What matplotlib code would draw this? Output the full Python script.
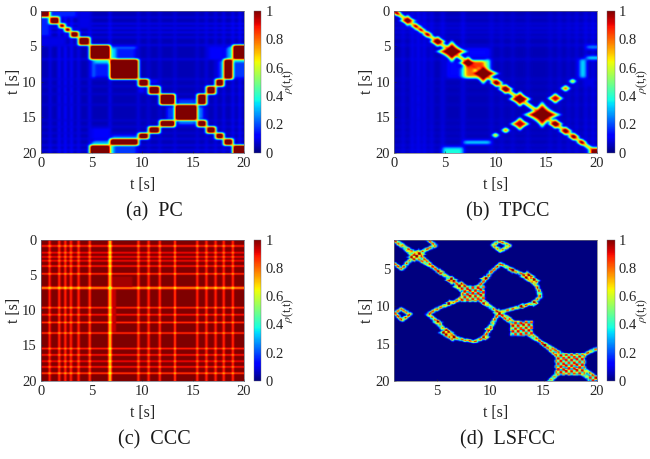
import numpy as np
import matplotlib
matplotlib.use("Agg")
import matplotlib.pyplot as plt
from matplotlib.cm import ScalarMappable
from matplotlib.colors import Normalize

plt.rcParams['font.family'] = ['Liberation Serif', 'DejaVu Serif']
plt.rcParams['mathtext.fontset'] = 'stix'
TXT = '#262626'

# ---------- values (seconds) ----------
TICKS = [0, 5, 10, 15, 20]
TICKS_D = [5, 10, 15, 20]
CB_TICKS = [0, 0.2, 0.4, 0.6, 0.8, 1]
CB_LABELS = ['0', '0.2', '0.4', '0.6', '0.8', '1']
CAPTIONS = ['(a)  PC', '(b)  TPCC', '(c)  CCC', '(d)  LSFCC']

# (a) PC: segment edges and pairs of similar segments
PC_EDGES = [0, .85, 1.8, 2.35, 2.9, 3.7, 4.8, 6.8, 9.6, 10.6, 11.7, 13.2, 15.4, 16.3, 17.2, 18.0, 18.9, 20]
PC_PAIRS = [(10, 12), (9, 13), (8, 14), (7, 15), (6, 16)]
# t0, t1, s0, s1, value (mirrored across the diagonal)
PC_GLOW = [(6.8, 9.3, 5.0, 6.8, .15), (6.8, 7.4, 5.0, 6.8, .34), (6.9, 9.4, 5.0, 5.3, .24),
           (19.0, 20, 6.8, 7.2, .36), (19.0, 20, 7.2, 9.4, .18), (18.2, 18.8, 5.2, 6.8, .2),
           (5.0, 6.8, 18.4, 18.9, .3), (5.0, 6.8, 16.5, 18.0, .11), (7.0, 9.5, 17.5, 18.0, .2),
           (13.5, 15.2, 12.4, 13.2, .18), (13.5, 15.2, 15.5, 16.0, .24),
           (10.0, 11.5, 9.7, 10.2, .12), (1.0, 3.5, 0, 0.8, .16), (3.6, 5, 0, 2.5, .09)]
STRIPE_T = [.9, 1.8, 2.4, 3.0, 3.7, 4.8, 6.8, 9.6, 10.6, 11.7, 13.2, 15.4, 16.3, 17.2, 18.0, 18.9, 19.6]
STRIPE_V = [.11, .14, .15, .14, .12, .12, .12, .1, .09, .09, .09, .09, .1, .1, .11, .12, .13]

# (b) TPCC: blob centre, size on the diagonal, then off-diagonal blobs
TP_DIAG_T = [.3, 1.35, 2.15, 2.65, 3.3, 4.3, 5.7, 7.3, 8.8, 10.1, 11.0, 12.4, 14.6, 15.9, 16.9, 17.7, 18.5, 19.7]
TP_DIAG_R = [.55, .9, .55, .5, .6, .95, 1.75, 1.1, 1.75, .8, .9, 1.3, 2.1, .9, .8, .72, .62, .55]
TP_OFF = [(15.9, 12.3, .95, .95), (16.9, 10.9, .62, .85), (17.6, 9.9, .5, .7),
          (12.4, 15.9, 1.15, .95), (11.0, 16.8, .55, .85), (10.0, 17.5, .5, .75)]
TP_RECT = [(18.3, 18.9, 6.8, 9.4, .36), (19.0, 20, 4.9, 5.3, .3), (19.0, 20, 6.4, 6.8, .42),
           (6.9, 9.5, 18.3, 18.7, .42), (4.8, 6.8, 19.2, 20, .38), (19.3, 20, 19.3, 20, 1.1),
           (7.0, 9.4, 5.2, 6.5, .13), (18.6, 19.4, 9.5, 10.5, .09)]
TP_CORE = [(6.9, 8.0, 7.4, 9.4, .8), (7.2, 9.0, 7.0, 8.2, .85), (7.0, 8.9, 9.0, 9.4, .8),
           (9.1, 9.4, 6.8, 8.4, .6), (6.6, 7.0, 8.0, 9.4, .4)]

# (c) CCC: times of the dips along each axis and their depth
CC_T = [.85, 1.8, 2.4, 2.95, 3.7, 4.8, 6.8, 9.6, 10.6, 11.7, 13.2, 15.4, 16.3, 17.2, 18.0, 18.9]
CC_COL_D = [.2, .2, .2, .22, .2, .22, .3, .22, .2, .2, .22, .2, .2, .2, .2, .2]
CC_ROW_D = [.22, .16, .16, .16, .18, .22, .26, .22, .18, .22, .22, .2, .18, .16, .18, .24]

# (d) LSFCC: polylines (mirrored across the diagonal), rings and checker blocks
LS_MAIN = [(1, 1), (1.7, 1.6), (2.9, 3.3), (4.2, 4.3), (5.3, 5.3), (6.4, 6.4), (7.3, 7.2), (8.4, 8.3), (9.5, 9.5),
           (10.8, 10.8), (11.5, 11.7), (12.5, 12.4), (13.3, 13.2), (14.2, 14.1), (15.05, 15.1), (16.1, 16.4),
           (17.5, 17.75), (19.2, 19.6), (20, 20)]
LS_LOOP = [(4.2, 11), (5.1, 12.1), (5.9, 13.5), (6.5, 14.1), (7.6, 14.5), (8.6, 14.7), (9.5, 14.1), (10, 12.8), (10.8, 10.8)]
LS_ARM = [(4.2, 11), (5.3, 10.1), (6.4, 9.5), (7.3, 8.9), (8.4, 8.3)]
LS_TOP = [(1, 4.2), (1.75, 4.9), (2.3, 4.0), (2.9, 3.3)]
LS_RING = [(1, 10.9), (1.7, 10.3), (2.5, 11.0), (1.75, 11.8), (1.2, 11)]
LS_TAIL = [(18.9, 16.4), (20, 15.6)]
LS_TAIL2 = [(16.4, 18.9), (15.6, 20)]
LS_NODES = [(2.9, 3.3, .75), (5.3, 5.3, .5), (6.4, 6.4, .7), (7.3, 7.2, .75), (9.5, 9.5, .5), (10.8, 10.8, .6),
            (15.05, 15.1, .45), (5.9, 13.5, .85), (6.5, 14.1, .7), (9.5, 14.1, .55), (5.1, 12.1, .55),
            (9.9, 13.0, .5), (7.3, 8.9, .5), (6.2, 9.5, .5)]
LS_BLOCKS = [(7.3, 9.5, 7.2, 9.3), (11.9, 14.0, 11.9, 13.9), (16.1, 18.9, 16.3, 19.2), (19.2, 20, 19.3, 20)]
LS_TILE = [[1.0, .35, 1.0, .1, 1.0, .55],
           [.4, 1.0, .2, 1.0, .3, .95],
           [1.0, .15, 1.0, .6, 1.0, .25],
           [.2, 1.0, .5, 1.0, .1, 1.0],
           [1.0, .4, 1.0, .2, 1.0, .6],
           [.45, .9, .1, 1.0, .5, 1.0]]


# ---------- painting helpers ----------
def edges(lo, hi, n):
    return np.linspace(lo, hi, n + 1)

def cover(e, a, b):
    return np.clip(np.minimum(e[1:], b) - np.maximum(e[:-1], a), 0, None) / np.diff(e)

def rect(M, e, x0, x1, y0, y1, v):
    m = np.outer(cover(e, y0, y1), cover(e, x0, x1))
    M[:] = M * (1 - m) + v * m

def blur(M, k=(1, 2, 1)):
    k = np.array(k, float) / sum(k)
    p = len(k) // 2
    P = np.pad(M, p, mode='edge')
    P = np.apply_along_axis(lambda r: np.convolve(r, k, 'same'), 0, P)
    P = np.apply_along_axis(lambda r: np.convolve(r, k, 'same'), 1, P)
    return P[p:-p, p:-p]

def star(M, c, x, y, r, v, power=.8):
    X, Y = np.meshgrid(c, c)
    d = (np.abs(X - x) ** power + np.abs(Y - y) ** power) ** (1 / power) / r
    M[:] = np.maximum(M, v * np.clip(2.0 * (1.05 - d), 0, 1) ** .7)

def stroke(M, c, pts, w, v):
    X, Y = np.meshgrid(c, c)
    for (x0, y0), (x1, y1) in zip(pts[:-1], pts[1:]):
        dx, dy = x1 - x0, y1 - y0
        t = np.clip(((X - x0) * dx + (Y - y0) * dy) / (dx * dx + dy * dy), 0, 1)
        d = np.hypot(X - x0 - t * dx, Y - y0 - t * dy)
        M[:] = np.maximum(M, v * np.clip(1 - d / w, 0, 1))


# ---------- matrices ----------
def make_pc():
    n = 200
    e = edges(0, 20, n)
    M = np.full((n, n), .05)
    for t, v in zip(STRIPE_T, STRIPE_V):
        rect(M, e, t - .1, t + .1, 0, 20, v)
        rect(M, e, 0, 20, t - .1, t + .1, v * .85)
    for x0, x1, y0, y1, v in PC_GLOW:
        rect(M, e, x0, x1, y0, y1, v)
        rect(M, e, y0, y1, x0, x1, v)
    E = PC_EDGES
    for i in range(len(E) - 1):
        rect(M, e, E[i], E[i + 1], E[i], E[i + 1], 1.15)
    for a, b in PC_PAIRS:
        rect(M, e, E[a], E[a + 1], E[b], E[b + 1], 1.15)
        rect(M, e, E[b], E[b + 1], E[a], E[a + 1], 1.15)
    for _ in range(4):
        M = blur(M)
    return M, (0, 20)

def make_tp():
    n = 200
    e = edges(0, 20, n)
    c = (e[1:] + e[:-1]) / 2
    M = np.full((n, n), .05)
    for t, v in zip(STRIPE_T, STRIPE_V):
        rect(M, e, t - .1, t + .1, 0, 20, v)
        rect(M, e, 0, 20, t - .08, t + .08, v * .85)
    for x0, x1, y0, y1, v in TP_RECT:
        rect(M, e, x0, x1, y0, y1, v)
    rect(M, e, 5.2, 6.5, 7.0, 9.4, .13)
    for x0, x1, y0, y1, v in TP_CORE:
        rect(M, e, x0, x1, y0, y1, v)
    for _ in range(4):
        M = blur(M)
    stroke(M, c, [(0, 0), (20, 20)], .3, 1.0)
    for t, r in zip(TP_DIAG_T, TP_DIAG_R):
        star(M, c, t, t, r, 1.05, .7)
    for x, y, r, v in TP_OFF:
        star(M, c, x, y, r, v, .7)
    for _ in range(3):
        M = blur(M)
    return M, (0, 20)

def make_cc():
    n = 200
    e = edges(0, 20, n)
    col = np.ones(n)
    row = np.ones(n)
    for t, a, b in zip(CC_T, CC_COL_D, CC_ROW_D):
        w = .08 if t != 6.8 else .15
        col -= a * cover(e, t - w, t + w)
        row -= b * cover(e, t - w, t + w)
    M = 1.0 * np.outer(row, col)
    rect(M, e, 7.0, 9.0, 5.2, 6.7, .965)
    rect(M, e, 7.0, 7.4, 7.0, 13.0, .94)
    return blur(M), (0, 20)

def make_ls():
    n = 152
    e = edges(1, 20, n)
    c = (e[1:] + e[:-1]) / 2
    M = np.zeros((n, n))
    T = np.resize(np.kron(np.array(LS_TILE), np.ones((2, 2))), (n, n))
    for pl in [LS_MAIN, LS_LOOP, LS_ARM, LS_TOP, LS_RING]:
        stroke(M, c, pl, .3, 1.15)
        stroke(M, c, [(y, x) for x, y in pl], .3, 1.15)
    stroke(M, c, LS_TAIL, .3, 1.15)
    stroke(M, c, LS_TAIL2, .3, 1.15)
    for x, y, r in LS_NODES:
        star(M, c, x, y, r, 1.1)
        star(M, c, y, x, r, 1.1)
    M = M * (.25 + .75 * T)
    for x0, x1, y0, y1 in LS_BLOCKS:
        m = np.outer(cover(e, y0, y1), cover(e, x0, x1))
        M = M * (1 - m) + T * m
    return blur(M, (1, 6, 1)), (1, 20)


MATS = [make_pc(), make_tp(), make_cc(), make_ls()]

# ---------- layout ----------
W, H = 650, 459
fig = plt.figure(figsize=(W / 100, H / 100), dpi=100)
LEFT = [41, 394.3, 41, 394.3]
TOP = [11, 11, 239.7, 239.7]
BOT = [152.7, 152.7, 380.7, 380.7]
CAP_Y = [212, 212, 440, 440]
AW = 202.5
CB_GAP, CB_W = 10.5, 7.3

for i, (M, lim) in enumerate(MATS):
    L, T_, B = LEFT[i], TOP[i], BOT[i]
    ax = fig.add_axes([L / W, 1 - B / H, AW / W, (B - T_) / H])
    ax.imshow(M, cmap='jet', vmin=0, vmax=1, aspect='auto', interpolation='bilinear',
              extent=(lim[0], lim[1], lim[1], lim[0]))
    tk = TICKS if i < 3 else TICKS_D
    ax.set_xticks(tk)
    ax.set_yticks(tk)
    ax.tick_params(direction='in', length=1.5, width=.4, labelsize=10.5, colors=TXT, pad=3)
    ax.set_xlabel('t [s]', fontsize=11.4, color=TXT, labelpad=5)
    ax.set_ylabel('t [s]', fontsize=11.4, color=TXT, labelpad=0)
    for s in ax.spines.values():
        s.set_linewidth(.5)
        s.set_color('#6a6a78')
    cax = fig.add_axes([(L + AW + CB_GAP) / W, 1 - B / H, CB_W / W, (B - T_) / H])
    cb = fig.colorbar(ScalarMappable(Normalize(0, 1), 'jet'), cax=cax)
    cb.set_ticks(CB_TICKS)
    cb.set_ticklabels(CB_LABELS)
    cb.ax.tick_params(length=0, labelsize=10.5, colors=TXT, pad=3)
    cb.outline.set_linewidth(.3)
    cb.outline.set_edgecolor('#6a6a78')
    fig.text((L + 247.5) / W, 1 - (T_ + B) / 2 / H, r'$\rho$(t,t)', rotation=90, fontsize=8.5,
             color=TXT, ha='center', va='center')
    fig.text((L + AW / 2 + 12) / W, 1 - CAP_Y[i] / H, CAPTIONS[i], fontsize=14.5, color='#1a1a1a',
             ha='center', va='center')

fig.savefig('out.png', dpi=100)
